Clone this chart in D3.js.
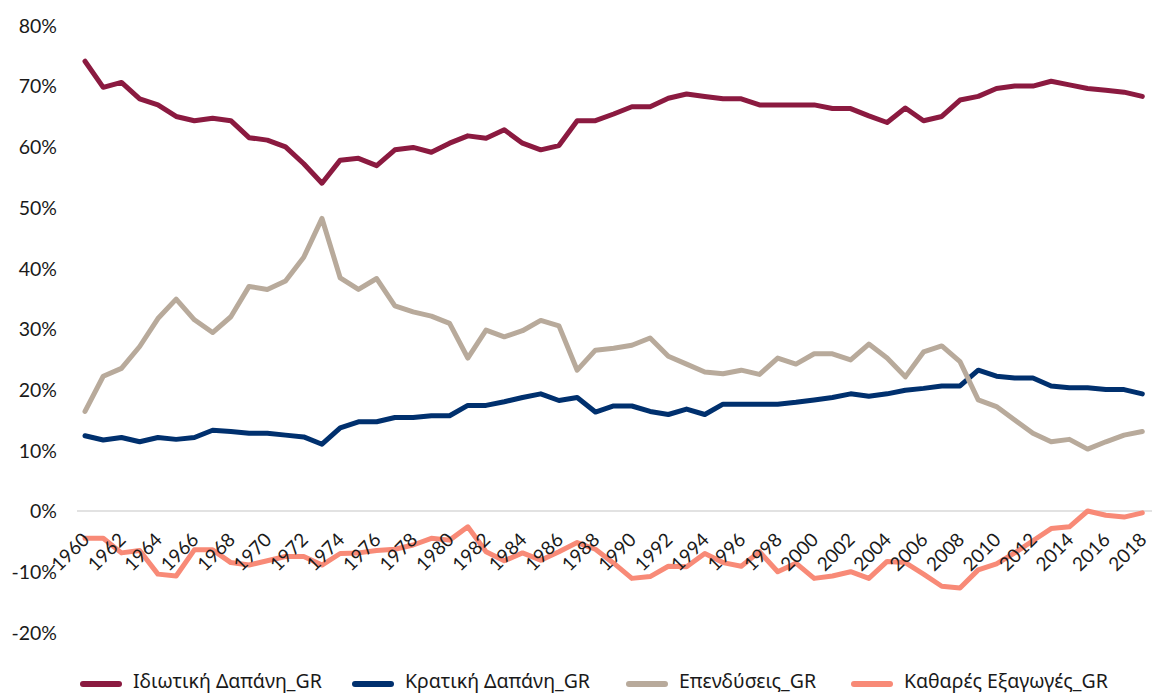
<!DOCTYPE html>
<html>
<head>
<meta charset="utf-8">
<script src="https://cdn.jsdelivr.net/npm/d3@7"></script>
<style>
  html, body { margin: 0; padding: 0; background: #fff; }
  svg text { font-family: Lato, "Noto Sans", sans-serif; fill: #1a1a1a; }
</style>
</head>
<body>
<svg id="chart" width="1157" height="695"></svg>
<script>
const years = d3.range(1960, 2019);
const seriesNames = ["Ιδιωτική Δαπάνη_GR", "Κρατική Δαπάνη_GR", "Επενδύσεις_GR", "Καθαρές Εξαγωγές_GR"];
const seriesColors = ["#8B1A40", "#00306E", "#B8AA9B", "#F88A77"];
const yTicks = [-20, -10, 0, 10, 20, 30, 40, 50, 60, 70, 80];
const xTickYears = d3.range(1960, 2019, 2);

const privateCons = [74.1,69.8,70.6,67.9,66.9,65.0,64.3,64.7,64.3,61.5,61.1,60.0,57.2,54.0,57.8,58.1,56.9,59.5,59.9,59.1,
  60.6,61.8,61.4,62.8,60.6,59.5,60.2,64.3,64.3,65.4,66.6,66.6,68.0,68.7,68.3,67.9,67.9,66.9,66.9,66.9,
  66.9,66.3,66.3,65.1,64.0,66.4,64.3,65.0,67.7,68.3,69.6,70.0,70.0,70.8,70.2,69.6,69.3,69.0,68.3];
const govCons = [12.4,11.7,12.1,11.4,12.1,11.8,12.1,13.3,13.1,12.8,12.8,12.5,12.2,11.0,13.7,14.7,14.7,15.4,15.4,15.7,
  15.7,17.4,17.4,18.0,18.7,19.3,18.2,18.7,16.3,17.3,17.3,16.4,15.9,16.8,15.9,17.6,17.6,17.6,17.6,17.9,
  18.3,18.7,19.3,18.9,19.3,19.9,20.2,20.6,20.6,23.2,22.2,21.9,21.9,20.6,20.3,20.3,20.0,20.0,19.3];
const investment = [16.4,22.2,23.5,27.1,31.7,34.9,31.5,29.4,32.0,37.0,36.5,37.9,41.8,48.2,38.4,36.5,38.3,33.8,32.8,32.1,
  30.9,25.2,29.8,28.7,29.7,31.4,30.5,23.2,26.5,26.8,27.3,28.5,25.5,24.2,22.9,22.6,23.2,22.5,25.2,24.2,
  25.9,25.9,24.9,27.5,25.2,22.1,26.2,27.2,24.6,18.3,17.2,15.0,12.8,11.4,11.8,10.2,11.4,12.5,13.1];
const netExports = [-4.5,-4.5,-6.9,-6.5,-10.4,-10.7,-6.4,-6.4,-8.5,-8.9,-8.2,-7.5,-7.5,-8.9,-7.0,-6.9,-6.5,-6.3,-5.6,-4.5,
  -4.8,-2.6,-6.7,-8.2,-6.9,-8.1,-6.7,-5.2,-6.3,-8.6,-11.1,-10.8,-9.1,-9.2,-7.0,-8.5,-9.1,-6.7,-10.0,-8.6,
  -11.1,-10.7,-10.0,-11.1,-8.3,-8.5,-10.4,-12.4,-12.7,-9.7,-8.7,-6.9,-4.9,-2.9,-2.6,0.0,-0.7,-1.0,-0.3];

const seriesValues = [privateCons, govCons, investment, netExports];

const svg = d3.select("#chart");
const x = d3.scaleLinear().domain([1960, 2018]).range([85, 1142.3]);
const y = d3.scaleLinear().domain([-20, 80]).range([632.4, 25.4]);

// zero line
svg.append("line")
  .attr("x1", 77).attr("x2", 1152)
  .attr("y1", y(0)).attr("y2", y(0))
  .attr("stroke", "#d9d9d9").attr("stroke-width", 1.5);

// y axis
const yAxis = svg.append("g")
  .attr("transform", "translate(57,0)")
  .call(d3.axisLeft(y).tickValues(yTicks).tickSize(0).tickPadding(0).tickFormat(d => d + "%"));
yAxis.select(".domain").remove();
yAxis.selectAll("text")
  .style("font-family", "Lato, 'Noto Sans', sans-serif")
  .style("font-size", "19.5px").attr("fill", "#1a1a1a").attr("dy", "0.35em");

// lines
const line = d3.line().x((d, i) => x(years[i])).y(d => y(d));
seriesValues.forEach((vals, k) => {
  svg.append("path")
    .datum(vals)
    .attr("d", line)
    .attr("fill", "none")
    .attr("stroke", seriesColors[k])
    .attr("stroke-width", 5)
    .attr("stroke-linejoin", "round")
    .attr("stroke-linecap", "round");
});

// x axis labels
const xAxis = svg.append("g")
  .attr("transform", `translate(0,${y(0)})`)
  .call(d3.axisBottom(x).tickValues(xTickYears).tickSize(0).tickFormat(d3.format("d")));
xAxis.select(".domain").remove();
xAxis.selectAll(".tick text")
  .attr("text-anchor", "end")
  .attr("x", 0).attr("y", 0).attr("dy", 0)
  .attr("transform", "translate(5,30) rotate(-45)")
  .style("font-family", "Lato, 'Noto Sans', sans-serif")
  .style("font-size", "19px").attr("fill", "#1a1a1a");

// legend
const legendX = [80, 352, 626, 851];
const legendY = 682;
const lg = svg.append("g");
seriesNames.forEach((name, k) => {
  const g = lg.append("g").attr("transform", `translate(${legendX[k]},${legendY})`);
  g.append("line").attr("x1", 3).attr("x2", 39).attr("y1", 2).attr("y2", 2)
    .attr("stroke", seriesColors[k]).attr("stroke-width", 6).attr("stroke-linecap", "round");
  g.append("text").attr("x", 53).attr("y", 0).attr("dy", "0.32em")
    .style("font-family", "'Noto Sans', Lato, sans-serif")
    .style("font-size", "19.5px").text(name);
});
</script>
</body>
</html>
